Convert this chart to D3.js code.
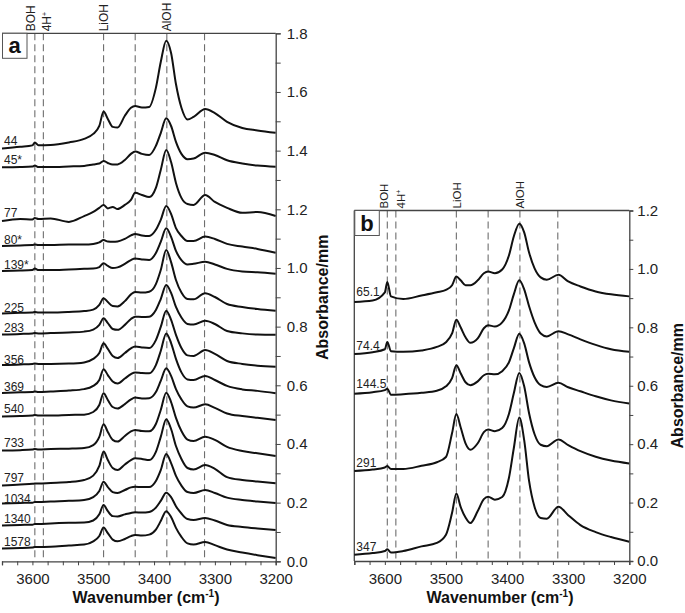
<!DOCTYPE html>
<html><head><meta charset="utf-8">
<script src="https://cdn.jsdelivr.net/npm/d3@7"></script>
<style>
body{margin:0;background:#fff;}
svg{display:block;font-family:"Liberation Sans",Arial,sans-serif;}
</style></head>
<body><svg id="c" width="685" height="613"></svg>
<script>
// ---- data ----
const wavenumbers = [3650,3620,3600,3596,3590,3570,3540,3515,3500,3490,3483,3476,3468,3460,3448,3438,3431,3420,3408,3397,3389,3380,3372,3364,3355,3345,3335,3316,3300,3280,3255,3230,3200];
const bandPositions = [3596,3582,3483,3431,3379,3317];
const bandLabels = ["BOH","4H+","LiOH","AlOH"];
const xTicks = [3600,3500,3400,3300,3200];

const labelsA = ["44","45*","77","80*","139*","225","283","356","369","540","733","797","1034","1340","1578"];
const s44  = [1.407,1.413,1.418,1.428,1.418,1.419,1.428,1.440,1.457,1.484,1.533,1.508,1.481,1.479,1.519,1.546,1.552,1.547,1.549,1.614,1.702,1.775,1.733,1.627,1.546,1.506,1.515,1.542,1.528,1.498,1.477,1.469,1.461];
const s45  = [1.343,1.344,1.346,1.349,1.344,1.344,1.346,1.348,1.353,1.356,1.365,1.358,1.353,1.353,1.368,1.389,1.397,1.389,1.385,1.416,1.460,1.510,1.484,1.430,1.389,1.371,1.373,1.393,1.385,1.367,1.356,1.349,1.345];
const s77  = [1.160,1.167,1.165,1.170,1.167,1.169,1.157,1.177,1.191,1.205,1.215,1.203,1.208,1.201,1.215,1.232,1.256,1.249,1.242,1.273,1.334,1.402,1.361,1.290,1.239,1.218,1.215,1.249,1.225,1.205,1.188,1.191,1.177];
const s80  = [1.075,1.077,1.078,1.080,1.078,1.078,1.080,1.080,1.082,1.087,1.095,1.090,1.089,1.090,1.099,1.111,1.116,1.111,1.109,1.130,1.164,1.211,1.184,1.136,1.109,1.092,1.092,1.107,1.099,1.082,1.073,1.065,1.052];
const s139 = [0.990,0.991,0.993,0.998,0.993,0.993,0.995,0.997,0.998,1.003,1.016,1.007,1.000,1.002,1.014,1.027,1.032,1.029,1.027,1.051,1.089,1.135,1.106,1.058,1.027,1.012,1.014,1.021,1.012,0.997,0.988,0.985,0.980];
const s225 = [0.845,0.847,0.848,0.850,0.848,0.848,0.850,0.853,0.858,0.874,0.897,0.884,0.870,0.869,0.887,0.910,0.918,0.916,0.919,0.945,0.993,1.061,1.020,0.959,0.916,0.894,0.893,0.914,0.901,0.877,0.867,0.860,0.854];
const s283 = [0.773,0.775,0.777,0.778,0.777,0.778,0.780,0.783,0.790,0.806,0.829,0.812,0.792,0.789,0.806,0.826,0.834,0.833,0.834,0.857,0.894,0.942,0.915,0.867,0.831,0.809,0.807,0.820,0.809,0.785,0.777,0.773,0.772];
const s356 = [0.669,0.671,0.673,0.674,0.673,0.673,0.674,0.678,0.690,0.710,0.743,0.724,0.700,0.693,0.710,0.726,0.732,0.729,0.727,0.754,0.799,0.854,0.823,0.772,0.727,0.702,0.700,0.720,0.707,0.683,0.673,0.667,0.663];
const s369 = [0.574,0.576,0.577,0.579,0.577,0.579,0.582,0.587,0.598,0.618,0.655,0.635,0.613,0.606,0.623,0.638,0.644,0.642,0.641,0.669,0.717,0.777,0.744,0.690,0.644,0.620,0.618,0.632,0.618,0.598,0.586,0.581,0.573];
const s540 = [0.494,0.495,0.497,0.499,0.497,0.497,0.499,0.500,0.509,0.533,0.573,0.550,0.526,0.521,0.536,0.552,0.558,0.555,0.556,0.577,0.615,0.658,0.632,0.587,0.552,0.528,0.524,0.535,0.523,0.504,0.495,0.489,0.482];
const s733 = [0.378,0.379,0.381,0.383,0.381,0.383,0.384,0.386,0.396,0.424,0.467,0.441,0.414,0.408,0.427,0.443,0.448,0.444,0.443,0.468,0.516,0.575,0.543,0.489,0.444,0.415,0.410,0.425,0.414,0.390,0.376,0.368,0.359];
const s797 = [0.258,0.262,0.264,0.265,0.265,0.267,0.270,0.277,0.292,0.325,0.374,0.345,0.318,0.311,0.330,0.345,0.351,0.349,0.345,0.373,0.424,0.484,0.451,0.393,0.349,0.318,0.313,0.328,0.315,0.287,0.277,0.272,0.266];
const s1034= [0.197,0.199,0.200,0.202,0.202,0.204,0.206,0.209,0.219,0.240,0.271,0.253,0.236,0.233,0.243,0.252,0.254,0.253,0.253,0.274,0.311,0.366,0.335,0.291,0.258,0.236,0.233,0.243,0.233,0.217,0.209,0.204,0.199];
const s1340= [0.122,0.124,0.125,0.127,0.127,0.129,0.131,0.132,0.139,0.160,0.192,0.171,0.154,0.153,0.160,0.165,0.167,0.166,0.168,0.183,0.206,0.234,0.219,0.188,0.163,0.144,0.141,0.148,0.139,0.124,0.117,0.112,0.107];
const s1578= [0.044,0.045,0.047,0.049,0.049,0.050,0.054,0.057,0.068,0.086,0.115,0.096,0.074,0.068,0.076,0.086,0.090,0.088,0.091,0.108,0.137,0.171,0.151,0.114,0.083,0.061,0.057,0.066,0.055,0.040,0.030,0.021,0.011];
const seriesA = [s44,s45,s77,s80,s139,s225,s283,s356,s369,s540,s733,s797,s1034,s1340,s1578];
const labelBaseA = [144.5,164,216.7,244,269,312,331.5,363.5,390.5,413,447,482,502.5,523,546];

const labelsB = ["65.1","74.4","144.5","291","347"];
const b65  = [0.887,0.892,0.920,0.955,0.906,0.897,0.909,0.920,0.928,0.944,0.974,0.961,0.944,0.944,0.961,0.985,0.991,0.985,0.998,1.046,1.111,1.155,1.125,1.056,1.002,0.971,0.963,0.980,0.957,0.940,0.923,0.913,0.906];
const b74  = [0.709,0.715,0.725,0.750,0.718,0.716,0.721,0.733,0.749,0.779,0.826,0.800,0.766,0.747,0.762,0.797,0.807,0.803,0.817,0.858,0.913,0.961,0.930,0.872,0.817,0.779,0.769,0.787,0.776,0.759,0.740,0.725,0.716];
const b144 = [0.573,0.578,0.585,0.590,0.569,0.571,0.576,0.583,0.598,0.626,0.670,0.643,0.612,0.602,0.615,0.636,0.641,0.639,0.650,0.680,0.728,0.778,0.745,0.680,0.629,0.602,0.596,0.610,0.595,0.581,0.564,0.550,0.539];
const b291 = [0.308,0.313,0.320,0.325,0.315,0.315,0.326,0.338,0.356,0.438,0.503,0.458,0.403,0.381,0.403,0.441,0.450,0.444,0.455,0.503,0.574,0.644,0.598,0.506,0.434,0.398,0.393,0.416,0.397,0.376,0.357,0.344,0.334];
const b347 = [0.021,0.027,0.034,0.040,0.029,0.034,0.050,0.062,0.090,0.165,0.231,0.185,0.149,0.130,0.171,0.212,0.220,0.210,0.219,0.284,0.386,0.491,0.414,0.274,0.185,0.147,0.145,0.186,0.157,0.123,0.099,0.082,0.066];
const seriesB = [b65,b74,b144,b291,b347];
const labelBaseB = [296,350,388,467,551];

// ---- drawing ----
const svg = d3.select("#c");
const FONT = '"Liberation Sans",Arial,sans-serif';

function panel(opt){
  const g = svg.append("g");
  const x = d3.scaleLinear().domain([3650,3200]).range([opt.x0,opt.x1]);
  const y = d3.scaleLinear().domain([0,opt.ymax]).range([opt.y1,opt.y0]);

  // dashed band lines
  g.selectAll("line.band").data(bandPositions).enter().append("line")
    .attr("x1",d=>x(d)).attr("x2",d=>x(d)).attr("y1",opt.y0).attr("y2",opt.y1)
    .attr("stroke","#6e6e6e").attr("stroke-width",1.1).attr("stroke-dasharray","7,4");

  // frame
  g.append("line").attr("x1",opt.x0).attr("x2",opt.x1).attr("y1",opt.y0).attr("y2",opt.y0)
    .attr("stroke","#444").attr("stroke-width",1.3);
  if(opt.leftLine) g.append("line").attr("x1",opt.x0).attr("x2",opt.x0).attr("y1",opt.y0).attr("y2",opt.y1)
    .attr("stroke","#444").attr("stroke-width",1.3);

  // spectra
  const line = d3.line().x((d,i)=>x(wavenumbers[i])).y(d=>y(d)).curve(d3.curveMonotoneX);
  g.selectAll("path.sp").data(opt.series).enter().append("path")
    .attr("d",line).attr("fill","none").attr("stroke","#111").attr("stroke-width",2)
    .attr("stroke-linejoin","round");

  // series labels
  g.selectAll("text.sl").data(opt.labels).enter().append("text")
    .attr("x",opt.x0+2).attr("y",(d,i)=>opt.labelBase[i])
    .attr("font-size",12).attr("fill","#222").text(d=>d);

  // bottom axis
  const xa = d3.axisBottom(x).tickValues(d3.range(3200,3651,25))
    .tickFormat(d=> xTicks.includes(d) ? d : "").tickSize(4).tickPadding(8);
  const gx = g.append("g").attr("transform",`translate(0,${opt.y1})`).call(xa);
  gx.select(".domain").attr("stroke","#444").attr("stroke-width",1.3);
  gx.selectAll(".tick line").attr("stroke","#444");
  gx.selectAll("text").attr("font-size",15).attr("font-family",FONT).attr("fill","#222");

  // right axis
  const nT = Math.round(opt.ymax*10);
  const ya = d3.axisRight(y).tickValues(d3.range(0,nT+1).map(i=>i/10))
    .tickFormat(d=> Math.round(d*10)%2===0 ? d3.format(".1f")(d) : "")
    .tickSize(opt.tickSize).tickPadding(opt.tickPad);
  const gy = g.append("g").attr("transform",`translate(${opt.x1},0)`).call(ya);
  gy.select(".domain").attr("stroke","#444").attr("stroke-width",1.3);
  gy.selectAll(".tick line").attr("stroke","#444");
  gy.selectAll("text").attr("font-size",15).attr("font-family",FONT).attr("fill","#222");

  // band labels on top
  const offs = [opt.bohOff, opt.hOff, 0, 0];
  const posIdx = [0,1,2,4];
  bandLabels.forEach((lab,i)=>{
    const cx = x(bandPositions[posIdx[i]]) + offs[i] + 4.3;
    const t = g.append("text").attr("transform",`translate(${cx},${opt.y0-2}) rotate(-90)`)
      .attr("font-size",opt.bandFont).attr("fill","#222");
    if(lab==="4H+"){
      t.append("tspan").text("4H");
      t.append("tspan").attr("font-size",opt.bandFont*0.6).attr("dy",-opt.bandFont*0.4).text("+");
    } else t.text(lab);
  });

  // panel letter box
  g.append("rect").attr("x",opt.x0+0.5).attr("y",opt.y0).attr("width",24.5).attr("height",25)
    .attr("fill","#fff").attr("stroke","#555").attr("stroke-width",1);
  g.append("text").attr("x",opt.x0+12.7).attr("y",opt.y0+20).attr("text-anchor","middle")
    .attr("font-size",22).attr("font-weight","bold").attr("fill","#111").text(opt.letter);

  // y label
  g.append("text").attr("transform",`translate(${opt.ylabX},${(opt.y0+opt.y1)/2}) rotate(-90)`)
    .attr("text-anchor","middle").attr("dy","0.35em").attr("font-size",16).attr("font-weight","bold")
    .attr("fill","#111").text("Absorbance/mm");

  // x label
  const xl = g.append("text").attr("x",opt.xlabX).attr("y",603).attr("text-anchor","middle")
    .attr("font-size",16).attr("font-weight","bold").attr("fill","#111");
  xl.append("tspan").text("Wavenumber (cm");
  xl.append("tspan").attr("font-size",10).attr("dy",-6).text("-1");
  xl.append("tspan").attr("dy",6).text(")");
}

panel({x0:2,x1:275.7,y0:33.3,y1:561.3,ymax:1.8,series:seriesA,labels:labelsA,labelBase:labelBaseA,
  leftLine:false,tickSize:5,tickPad:6,bohOff:-4.2,hOff:3.7,bandFont:12,letter:"a",ylabX:322,xlabX:146});
panel({x0:354.3,x1:629.3,y0:210.5,y1:561,ymax:1.2,series:seriesB,labels:labelsB,labelBase:labelBaseB,
  leftLine:true,tickSize:4,tickPad:4,bohOff:-3.5,hOff:5,bandFont:11.5,letter:"b",ylabX:677,xlabX:500});
</script></body></html>
